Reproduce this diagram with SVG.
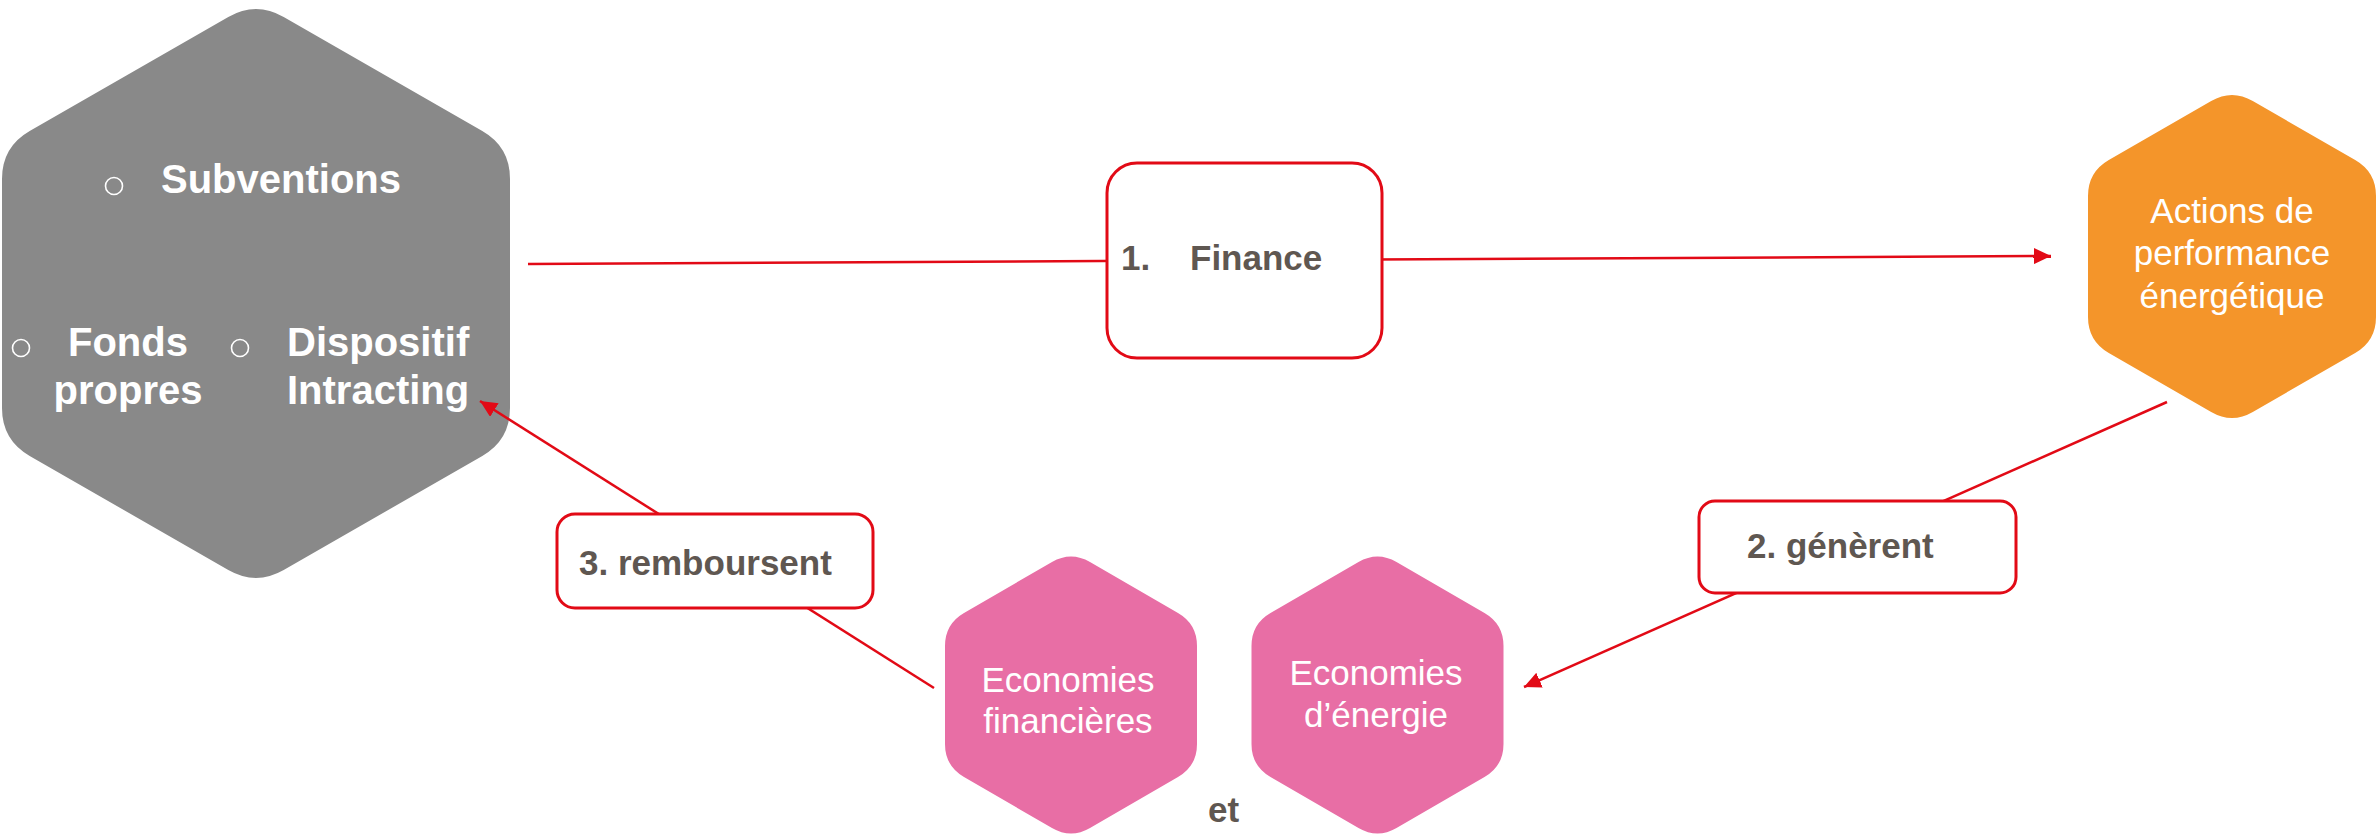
<svg xmlns="http://www.w3.org/2000/svg" width="2377" height="836" viewBox="0 0 2377 836">
<style>
.wb{font-family:"Liberation Sans",Arial,sans-serif;font-weight:bold;font-size:40px;fill:#ffffff}
.wr{font-family:"Liberation Sans",Arial,sans-serif;font-size:35px;fill:#ffffff;text-anchor:middle}
.lb{font-family:"Liberation Sans",Arial,sans-serif;font-weight:bold;font-size:35px;fill:#5f5751}
.box{fill:#ffffff;stroke:#e20a16;stroke-width:3}
.bul{fill:none;stroke:#ffffff;stroke-width:1.6}
.con{fill:none;stroke:#e20a16;stroke-width:2.5}
</style>
<defs>
<marker id="arr" markerUnits="userSpaceOnUse" markerWidth="18" markerHeight="16" refX="17" refY="8" orient="auto">
<path d="M0,0 L17,8 L0,16 Z" fill="#e20a16"/>
</marker>
</defs>
<rect width="2377" height="836" fill="#ffffff"/>
<g id="sources">
<path fill="#898989" d="M228.3,16.9 Q256,1 283.7,16.9 L482.3,131.1 Q510,147 510,179 L510,408 Q510,440 482.3,455.9 L283.7,570.1 Q256,586 228.3,570.1 L29.7,455.9 Q2,440 2,408 L2,179 Q2,147 29.7,131.1 Z"/>
<circle class="bul" cx="114" cy="186" r="8.5"/>
<text class="wb" x="161" y="193">Subventions</text>
<circle class="bul" cx="21" cy="348" r="8.5"/>
<text class="wb" x="128" y="356" text-anchor="middle">Fonds</text>
<text class="wb" x="128" y="404" text-anchor="middle">propres</text>
<circle class="bul" cx="240" cy="348" r="8.5"/>
<text class="wb" x="287" y="356">Dispositif</text>
<text class="wb" x="287" y="404">Intracting</text>
</g>
<g id="actions">
<path fill="#f4952a" d="M2211.2,101 Q2232,89 2252.8,101 L2355.2,160 Q2376,172 2376,196 L2376,317 Q2376,341 2355.2,353 L2252.8,412 Q2232,424 2211.2,412 L2108.8,353 Q2088,341 2088,317 L2088,196 Q2088,172 2108.8,160 Z"/>
<text class="wr" x="2232" y="223">Actions de</text>
<text class="wr" x="2232" y="265">performance</text>
<text class="wr" x="2232" y="308">énergétique</text>
</g>
<g id="eco-fin">
<path fill="#e86ea5" d="M1052,562 Q1071,551 1090,562 L1178,613 Q1197,624 1197,646 L1197,744 Q1197,766 1178,777 L1090,828 Q1071,839 1052,828 L964,777 Q945,766 945,744 L945,646 Q945,624 964,613 Z"/>
<text class="wr" x="1068" y="692">Economies</text>
<text class="wr" x="1068" y="733">financières</text>
</g>
<g id="eco-energie">
<path fill="#e86ea5" transform="translate(306.5,0)" d="M1052,562 Q1071,551 1090,562 L1178,613 Q1197,624 1197,646 L1197,744 Q1197,766 1178,777 L1090,828 Q1071,839 1052,828 L964,777 Q945,766 945,744 L945,646 Q945,624 964,613 Z"/>
<text class="wr" x="1376" y="685">Economies</text>
<text class="wr" x="1376" y="727">d’énergie</text>
</g>
<g id="et">
<text class="lb" x="1208" y="822">et</text>
</g>
<g id="connectors">
<line class="con" x1="528" y1="264" x2="2051" y2="256" marker-end="url(#arr)"/>
<line class="con" x1="2167" y1="402" x2="1524" y2="687" marker-end="url(#arr)"/>
<line class="con" x1="934" y1="688" x2="480" y2="401" marker-end="url(#arr)"/>
</g>
<g id="label-finance">
<rect class="box" x="1107" y="163" width="275" height="195" rx="30"/>
<text class="lb" x="1121" y="270">1.</text>
<text class="lb" x="1190" y="270">Finance</text>
</g>
<g id="label-generent">
<rect class="box" x="1699" y="501" width="317" height="92" rx="16"/>
<text class="lb" x="1747" y="558">2. génèrent</text>
</g>
<g id="label-remboursent">
<rect class="box" x="557" y="514" width="316" height="94" rx="18"/>
<text class="lb" x="579" y="575">3. remboursent</text>
</g>
</svg>
